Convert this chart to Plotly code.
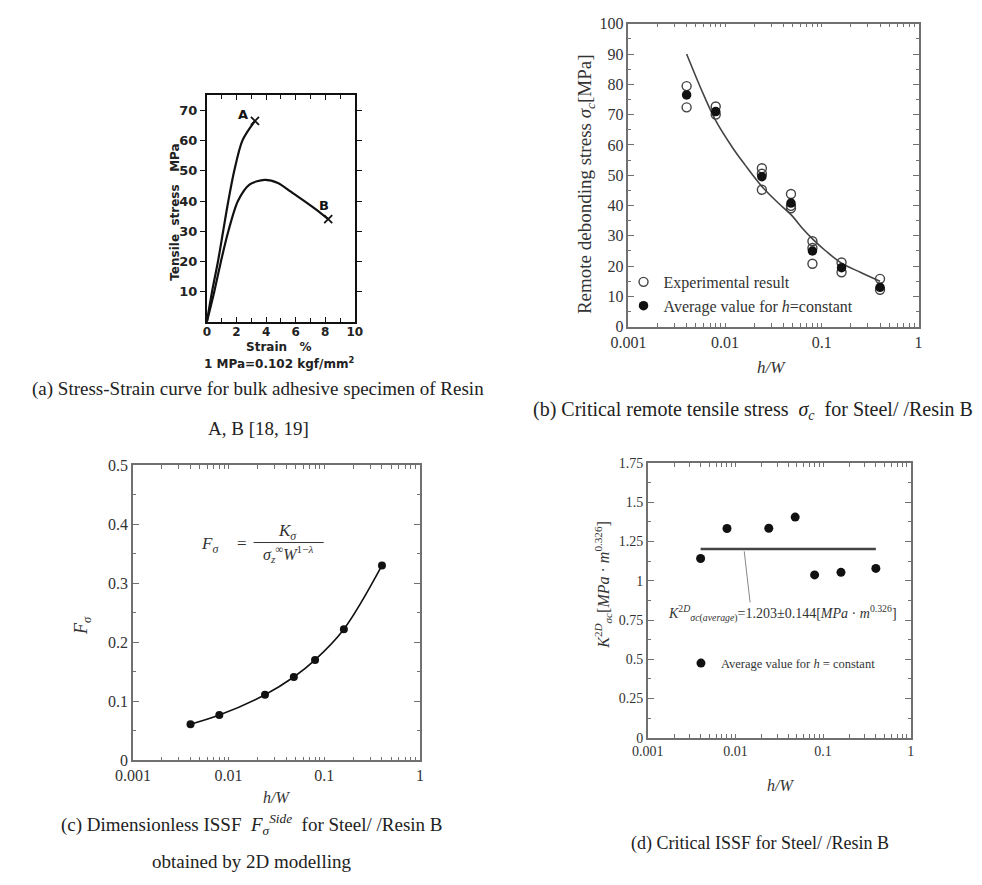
import plotly.graph_objects as go

W, H = 982, 885
def px(x): return x / W
def py(y): return 1 - y / H

SERIF = "Liberation Serif"
SANS = "DejaVu Sans"
NB = "\u00a0"

# ---------------- data ----------------
# (a) stress-strain curves (strain %, stress MPa)
strain_A = [0, 0.35, 0.75, 1.1, 1.45, 1.85, 2.4, 3.25]
stress_A = [0, 10, 20, 30, 40, 50, 60, 66.5]
strain_B = [0, 0.5, 0.95, 1.45, 2.1, 2.9, 3.9, 4.8, 5.7, 7.3, 8.2]
stress_B = [0, 10, 20, 30, 40, 45.5, 47, 46, 43, 37.5, 34]

# (b) critical remote stress
hw = [0.004, 0.008, 0.024, 0.048, 0.08, 0.16, 0.4]
exp_hw = [0.004, 0.004, 0.008, 0.008, 0.024, 0.024, 0.024, 0.048, 0.048, 0.048,
          0.08, 0.08, 0.08, 0.16, 0.16, 0.4, 0.4]
exp_sigma = [79.4, 72.4, 72.7, 70.0, 52.3, 50.5, 45.2, 43.8, 39.9, 39.1,
             28.2, 26.0, 20.8, 21.2, 18.0, 15.8, 12.2]
avg_sigma = [76.5, 71.0, 49.5, 40.8, 25.0, 19.5, 13.0]
fit_hw = [0.004, 0.006, 0.008, 0.012, 0.016, 0.024, 0.035, 0.048, 0.065, 0.08, 0.11, 0.16, 0.25, 0.4]
fit_sigma = [90, 76.5, 68, 59, 53.5, 46.3, 41, 37, 32, 29, 25, 21, 18, 15]

# (c) dimensionless ISSF
F_sigma = [0.061, 0.0765, 0.111, 0.141, 0.170, 0.222, 0.330]

# (d) critical ISSF
K_sigma_c = [1.142, 1.333, 1.335, 1.406, 1.0375, 1.054, 1.079]
K_avg = 1.203

# tick labels
log_major = [0.001, 0.01, 0.1, 1]
log_major_text = ["0.001", "0.01", "0.1", "1"]
a_xticks = [0, 2, 4, 6, 8, 10]
a_yticks = [10, 20, 30, 40, 50, 60, 70]
d_yticks = [0, 0.25, 0.5, 0.75, 1, 1.25, 1.5, 1.75]
d_yticktext = ["0", "0.25", "0.5", "0.75", "1", "1.25", "1.5", "1.75"]

fig = go.Figure()

# ---- (a)
for sx, sy in ((strain_A, stress_A), (strain_B, stress_B)):
    fig.add_trace(go.Scatter(x=sx, y=sy, mode="lines", xaxis="x", yaxis="y",
                             line=dict(color="#111", width=2.2, shape="spline", smoothing=0.8),
                             showlegend=False))
fig.add_trace(go.Scatter(x=[strain_A[-1], strain_B[-1]], y=[stress_A[-1], stress_B[-1]],
                         mode="markers", xaxis="x", yaxis="y",
                         marker=dict(symbol="x-thin", size=8, line=dict(color="#111", width=1.8)),
                         showlegend=False))

# ---- (b)
fig.add_trace(go.Scatter(x=fit_hw, y=fit_sigma, mode="lines", xaxis="x2", yaxis="y2",
                         line=dict(color="#444", width=1.6, shape="spline"), showlegend=False))
fig.add_trace(go.Scatter(x=exp_hw, y=exp_sigma, mode="markers", xaxis="x2", yaxis="y2",
                         marker=dict(symbol="circle-open", size=9, color="#444", line=dict(width=1.4)),
                         name="Experimental result", legend="legend"))
fig.add_trace(go.Scatter(x=hw, y=avg_sigma, mode="markers", xaxis="x2", yaxis="y2",
                         marker=dict(symbol="circle", size=9.5, color="#111"),
                         name="Average value for <i>h</i>=constant", legend="legend"))

# ---- (c)
fig.add_trace(go.Scatter(x=hw, y=F_sigma, mode="lines+markers", xaxis="x3", yaxis="y3",
                         line=dict(color="#111", width=1.6, shape="spline"),
                         marker=dict(symbol="circle", size=8, color="#111"), showlegend=False))

# ---- (d)
fig.add_trace(go.Scatter(x=[hw[0], hw[-1]], y=[K_avg, K_avg], mode="lines", xaxis="x4", yaxis="y4",
                         line=dict(color="#444", width=2.6), showlegend=False))
fig.add_trace(go.Scatter(x=hw, y=K_sigma_c, mode="markers", xaxis="x4", yaxis="y4",
                         marker=dict(symbol="circle", size=9, color="#111"),
                         name="Average value for <i>h</i> = constant", legend="legend2"))

# ---------------- axes ----------------
log_vals = [m * 10 ** e for e in (-3, -2, -1) for m in range(1, 10)] + [1]
log_text = []
for v in log_vals:
    lab = ""
    for m, t in zip(log_major, log_major_text):
        if abs(v - m) < 1e-12:
            lab = t
    log_text.append(lab)

def log_axis(domain, anchor, color, size):
    return dict(domain=domain, anchor=anchor, type="log", range=[-3, 0],
                tickvals=log_vals, ticktext=log_text, ticks="inside", ticklen=4,
                tickcolor=color, showline=True, linecolor=color, linewidth=1.5, mirror="ticks",
                showgrid=False, zeroline=False,
                tickfont=dict(family=SERIF, size=size, color="#333"))

def lin_axis(domain, anchor, rng, dtick, minor, color, size):
    return dict(domain=domain, anchor=anchor, range=rng, dtick=dtick, tick0=0,
                ticks="inside", ticklen=6, tickcolor=color, showline=True, linecolor=color,
                linewidth=1.5, mirror="ticks", showgrid=False, zeroline=False,
                minor=dict(dtick=minor, ticks="inside", ticklen=3, tickcolor=color, showgrid=False),
                tickfont=dict(family=SERIF, size=size, color="#333"))

GRAY = "#707070"
layout = dict(
    width=W, height=H, margin=dict(l=0, r=0, t=0, b=0),
    paper_bgcolor="white", plot_bgcolor="white",
    xaxis=dict(domain=[px(194), px(346)], anchor="y", range=[0, 10],
               tickvals=a_xticks, ticks="inside", ticklen=5, tickcolor="#111",
               minor=dict(dtick=1, ticks="inside", ticklen=4, tickcolor="#111"),
               showline=True, linecolor="#111", linewidth=2, mirror="ticks",
               showgrid=False, zeroline=False, ticklabelstandoff=-2,
               tickfont=dict(family=SANS, size=12, color="#222", weight="bold")),
    yaxis=dict(domain=[py(320), py(89)], anchor="x", range=[0, 75],
               tickvals=a_yticks, ticks="outside", ticklen=5, tickcolor="#111",
               showline=True, linecolor="#111", linewidth=2, mirror="ticks",
               showgrid=False, zeroline=False,
               tickfont=dict(family=SANS, size=13, color="#222", weight="bold")),
    xaxis2=log_axis([px(627), px(925)], "y2", GRAY, 16),
    yaxis2=lin_axis([py(325), py(16)], "x2", [0, 100], 10, 5, GRAY, 16),
    xaxis3=log_axis([px(118), px(413)], "y3", GRAY, 16),
    yaxis3=lin_axis([py(767), py(466)], "x3", [0, 0.5], 0.1, 0.05, GRAY, 16),
    xaxis4=log_axis([px(647), px(917)], "y4", GRAY, 14),
    yaxis4=lin_axis([py(744), py(464)], "x4", [0, 1.75], 0.25, 0.125, GRAY, 14),
    legend=dict(x=px(622), y=py(262), xanchor="left", yanchor="top",
                font=dict(family=SERIF, size=16, color="#333"), bgcolor="rgba(0,0,0,0)",
                tracegroupgap=0, itemwidth=30),
    legend2=dict(x=px(681), y=py(653), xanchor="left", yanchor="top",
                 font=dict(family=SERIF, size=12.5, color="#333"), bgcolor="rgba(0,0,0,0)",
                 itemwidth=30),
)
fig.update_layout(**layout)
fig.layout.yaxis4.tickvals = d_yticks
fig.layout.yaxis4.ticktext = d_yticktext

ann = []
def A(x, y, text, size, family=SERIF, angle=0, color="#222", bold=False):
    f = dict(family=family, size=size, color=color)
    if bold:
        f["weight"] = "bold"
    ann.append(dict(x=px(x), y=py(y), xref="paper", yref="paper", text=text, showarrow=False,
                    textangle=angle, xanchor="center", yanchor="middle", font=f))

# (a) texts
for lab, lx, ly in (("A", 2.45, 68.5), ("B", 7.9, 38.5)):
    ann.append(dict(x=lx, y=ly, xref="x", yref="y", text=lab, showarrow=False,
                    xanchor="center", yanchor="middle",
                    font=dict(family=SANS, size=13, color="#111", weight="bold")))
A(161, 208, "Tensile" + NB * 2 + "stress" + NB * 3 + "MPa", 12, SANS, -90, "#222", True)
A(268, 346, "Strain" + NB * 3 + "%", 12, SANS, 0, "#222", True)
A(268, 362, "1 MPa=0.102 kgf/mm<sup>2</sup>", 12, SANS, 0, "#222", True)

# (b) titles
A(583, 180, "Remote debonding stress <i>σ</i><sub><i>c</i></sub>[MPa]", 19, angle=-90, color="#333")
A(774, 367, "<i>h/W</i>", 17, color="#333")

# (c) titles and formula
A(67, 630, "<i>F<sub>σ</sub></i>", 18, angle=-90, color="#333")
A(266, 805, "<i>h/W</i>", 16, color="#333")
A(197, 548, "<i>F<sub>σ</sub></i>", 17, color="#333")
A(230, 546, "=", 17, color="#333")
A(277, 534, "<i>K<sub>σ</sub></i>", 17, color="#333")
A(277, 557, "<i>σ</i><sub><i>z</i></sub><sup>∞</sup><i>W</i><sup>1−<i>λ</i></sup>", 16, color="#333")

# (d) titles and note
A(601, 588, "<i>K</i><sup>2<i>D</i></sup><sub><i>σc</i></sub>[<i>MPa</i> · <i>m</i><sup>0.326</sup>]",
  16, angle=-90, color="#333")
A(783, 793, "<i>h/W</i>", 16, color="#333")
A(785, 617, "<i>K</i><sup>2<i>D</i></sup><sub><i>σc</i>(<i>average</i>)</sub>=1.203±0.144[<i>MPa</i> · <i>m</i><sup>0.326</sup>]",
  14, color="#333")

# captions
A(247, 388, "(a) Stress-Strain curve for bulk adhesive specimen of Resin", 19)
A(247, 429, "A, B [18, 19]", 19)
A(755, 410, "(b) Critical remote tensile stress" + NB * 2 + "<i>σ</i><sub><i>c</i></sub>" + NB * 2 + "for Steel/ /Resin B", 20)
A(240, 832, "(c) Dimensionless ISSF" + NB * 2 + "<i>F</i><sub><i>σ</i></sub><sup><i>Side</i></sup>" + NB * 2 + "for Steel/ /Resin B", 19)
A(240, 870, "obtained by 2D modelling", 19)
A(762, 852, "(d) Critical ISSF for Steel/ /Resin B", 18)

fig.update_layout(annotations=ann)

# fraction bar in (c) and leader line in (d)
fig.add_shape(type="line", xref="paper", yref="paper", x0=px(242), x1=px(314), y0=py(545), y1=py(545),
              line=dict(color="#333", width=1))
fig.add_shape(type="line", xref="paper", yref="paper", x0=px(746), x1=px(752), y0=py(554), y1=py(606),
              line=dict(color="#888", width=1))

fig.write_html("out.html")
